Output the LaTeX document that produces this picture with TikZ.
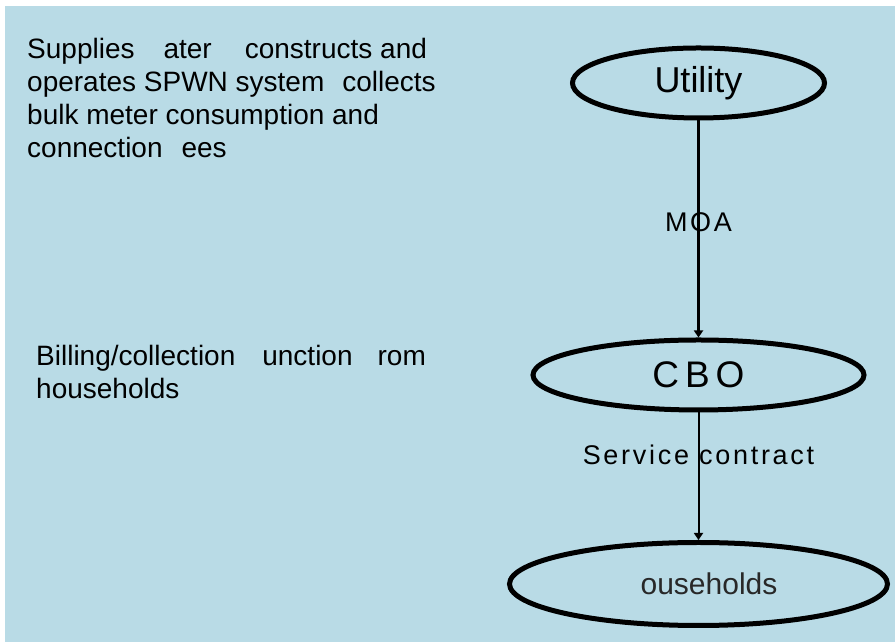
\documentclass[tikz,border=0pt]{standalone}
\usepackage{fontspec}
\setmainfont{Liberation Sans}
\newfontfamily\spacedfont[LetterSpace=10]{Liberation Sans}
\newfontfamily\widefont[LetterSpace=16]{Liberation Sans}
\usetikzlibrary{arrows.meta,positioning,shapes.geometric}
\definecolor{slideblue}{RGB}{185,219,230}
\definecolor{darktext}{RGB}{40,40,40}
\tikzset{
    %Define standard arrow tip
    >={Triangle[width=9pt,length=7pt]},
    %Define style for ovals
    oval/.style={
           ellipse,
           draw=black, line width=5pt,
           inner sep=0pt,
           minimum height=70pt},
    % Define style for notes on the left
    note/.style={
           anchor=north west,
           inner sep=0pt,
           align=left,
           font=\fontsize{28}{33}\selectfont}
}

\begin{document}
\begin{tikzpicture}[x=1pt,y=1pt,
                    tag/.style={font=\fontsize{27}{32}\spacedfont, inner sep=0pt}]
    \useasboundingbox (0,0) rectangle (895,642);
    \fill[white] (0,0) rectangle (895,642);
    \fill[slideblue] (5,0) rectangle (895,636);
    \node (supplies) [note] at (27,604)
          {Supplies\hspace{29pt}ater\hspace{33pt}constructs and\\
           operates SPWN system\hspace{18pt}collects\\
           bulk meter consumption and\\
           connection\hspace{19pt}ees};
    \node (billing) [note] at (36,297)
          {Billing/collection\hspace{27pt}unction\hspace{25pt}rom\\
           households};
    \node (utility) [oval, minimum width=252pt] at (698.5,559)
          {\fontsize{36}{40}\selectfont Utility};
    \node (cbo) [oval, minimum width=331pt] [below=217pt of utility]
          {\fontsize{37}{40}\widefont CBO}
          edge [<-, line width=3pt] node [tag, pos=0.53] {MOA} (utility);
    \node (households) [oval, minimum width=378pt, minimum height=83pt]
          [below=127.5pt of cbo]
          {\fontsize{30}{36}\selectfont\color{darktext}\hspace*{21pt}ouseholds}
          edge [<-, line width=2pt] node [tag, pos=0.67] {Service contract} (cbo);
\end{tikzpicture}
\end{document}
